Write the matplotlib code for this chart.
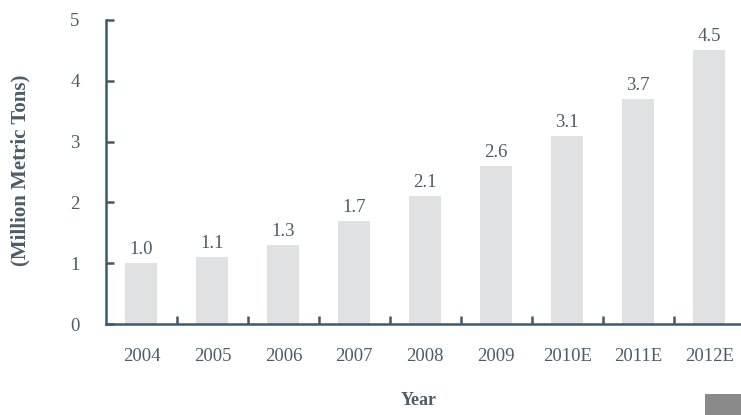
import matplotlib.pyplot as plt
from matplotlib.patches import Rectangle

# Production by year (million metric tons), E = estimate
anos = ['2004', '2005', '2006', '2007', '2008', '2009', '2010E', '2011E', '2012E']
valores = [1.0, 1.1, 1.3, 1.7, 2.1, 2.6, 3.1, 3.7, 4.5]

cor_texto = '#4b5d69'
cor_eixo = '#3e5a6a'
cor_barra = '#dfe1e2'

plt.rcParams['font.family'] = ['Liberation Serif', 'DejaVu Serif']

fig = plt.figure(figsize=(7.41, 4.15), dpi=100)
ax = fig.add_axes([0.143, 0.219, 0.862, 0.733])

posicoes = range(len(anos))
ax.bar(posicoes, valores, width=0.45, color=cor_barra, zorder=1)

# Rotulo dos dados
for i, valor in enumerate(valores):
    ax.text(i, valor + 0.08, f'{valor:.1f}', ha='center', va='bottom',
            fontsize=13.5, color=cor_texto)

ax.set_xlim(-0.5, len(anos) - 0.5)
ax.set_ylim(0, 5)

ax.set_xticks(list(posicoes))
ax.set_xticklabels(anos)
ax.set_xticks([i + 0.5 for i in range(len(anos) - 1)], minor=True)
ax.set_yticks(range(6))

ax.tick_params(axis='x', which='major', length=0, pad=17, labelsize=13.5, labelcolor=cor_texto)
ax.tick_params(axis='x', which='minor', direction='in', length=6, width=1.8, color=cor_eixo)
ax.tick_params(axis='y', direction='in', length=6, width=1.8, color=cor_eixo,
               pad=19, labelsize=13.5, labelcolor=cor_texto)

for lado in ['top', 'right']:
    ax.spines[lado].set_visible(False)
for lado in ['left', 'bottom']:
    ax.spines[lado].set_color(cor_eixo)
    ax.spines[lado].set_linewidth(1.8)

fig.text(0.027, 0.59, '(Million Metric Tons)', rotation=90, ha='center', va='center',
         fontsize=15, fontweight='bold', color=cor_texto)
fig.text(0.565, 0.035, 'Year', ha='center', va='center',
         fontsize=13, fontweight='bold', color=cor_texto)

# bloco cinza no canto inferior direito
fig.patches.append(Rectangle((0.952, 0.0), 0.048, 0.05, transform=fig.transFigure,
                             facecolor='#8a8a8a', edgecolor='none'))

fig.savefig('out.png', dpi=100)
